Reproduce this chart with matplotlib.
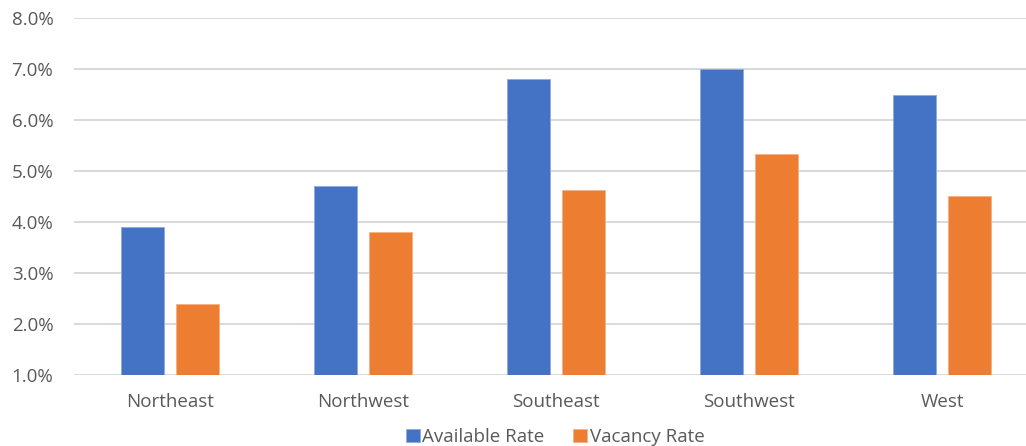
import matplotlib
matplotlib.use("Agg")
import matplotlib.pyplot as plt
from matplotlib.ticker import FuncFormatter
import numpy as np

categories = ["Northeast", "Northwest", "Southeast", "Southwest", "West"]
available_rate = [3.9, 4.7, 6.8, 7.0, 6.5]
vacancy_rate = [2.4, 3.8, 4.62, 5.34, 4.51]
y_ticks = [1, 2, 3, 4, 5, 6, 7, 8]

BLUE = "#4472C4"
ORANGE = "#ED7D31"
GRID = "#D9D9D9"
TEXT = "#595959"

plt.rcParams['font.family'] = ['Open Sans', 'DejaVu Sans']

W, H = 1026, 446
fig = plt.figure(figsize=(W / 100, H / 100), dpi=100)
left = 73.5 / W
bottom = 1 - 375 / H
top = 1 - 18 / H
width = 965 / W
ax = fig.add_axes([left, bottom, width, top - bottom])

x = np.arange(len(categories))
bw = 0.222
off = 0.141
b1 = ax.bar(x - off, available_rate, bw, color=BLUE, label="Available Rate", zorder=3,
            edgecolor="#8FAADC", linewidth=0.6)
b2 = ax.bar(x + off, vacancy_rate, bw, color=ORANGE, label="Vacancy Rate", zorder=3,
            edgecolor="#F4B183", linewidth=0.6)

ax.set_xlim(-0.5, len(categories) - 0.5)
ax.set_ylim(1, 8)
ax.set_yticks(y_ticks)
ax.yaxis.set_major_formatter(FuncFormatter(lambda v, p: f"{v:.1f}%"))
ax.set_xticks(x)
ax.set_xticklabels(categories)
ax.grid(axis="y", color=GRID, linewidth=1.4, zorder=0)
ax.set_axisbelow(True)
for s in ax.spines.values():
    s.set_visible(False)
ax.tick_params(axis="both", length=0, colors=TEXT, labelsize=13.5)
ax.tick_params(axis="y", pad=14.5)
ax.tick_params(axis="x", pad=13)

fig.legend(handles=[b1, b2], loc="center", bbox_to_anchor=(555 / W, 1 - 437 / H),
           ncol=2, frameon=False, fontsize=13.5, handlelength=0.75, handleheight=0.75,
           handletextpad=0.15, columnspacing=1.5, labelcolor=TEXT)

fig.savefig("out.png", dpi=100)
